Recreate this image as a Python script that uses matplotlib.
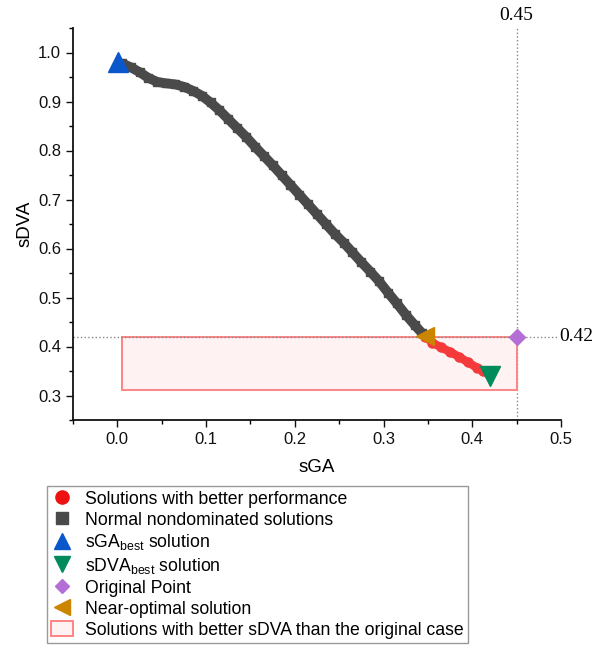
import matplotlib
matplotlib.use("Agg")
import matplotlib.pyplot as plt
from matplotlib.lines import Line2D
from matplotlib.patches import Rectangle
from matplotlib.ticker import MultipleLocator

plt.rcParams['font.family'] = ['Liberation Sans', 'DejaVu Sans']
plt.rcParams['mathtext.fontset'] = 'custom'
plt.rcParams['mathtext.rm'] = 'Liberation Sans'

# ---- data ----
normal_sga = [0.005, 0.015, 0.025, 0.035, 0.045, 0.055, 0.065, 0.075, 0.085, 0.095,
              0.105, 0.115, 0.125, 0.135, 0.145, 0.155, 0.165, 0.175, 0.185, 0.195,
              0.205, 0.215, 0.225, 0.235, 0.245, 0.255, 0.265, 0.275, 0.285, 0.295,
              0.305, 0.315, 0.325, 0.335, 0.343]
normal_sdva = [0.978, 0.970, 0.960, 0.948, 0.940, 0.937, 0.935, 0.930, 0.922, 0.912,
               0.898, 0.882, 0.864, 0.846, 0.828, 0.808, 0.789, 0.770, 0.750, 0.730,
               0.710, 0.690, 0.670, 0.650, 0.630, 0.612, 0.592, 0.572, 0.553, 0.533,
               0.510, 0.488, 0.465, 0.444, 0.428]
better_sga = [0.347, 0.355, 0.365, 0.375, 0.385, 0.395, 0.405, 0.412, 0.418]
better_sdva = [0.420, 0.408, 0.398, 0.389, 0.379, 0.368, 0.357, 0.350, 0.345]
sga_best = (0.001, 0.980)
sdva_best = (0.420, 0.340)
original_point = (0.45, 0.42)
near_optimal = (0.347, 0.422)
rect_x0, rect_y0 = 0.005, 0.312
hline_end = 0.495

legend_labels = ["Solutions with better performance",
                 "Normal nondominated solutions",
                 r"sGA$_{\mathrm{best}}$ solution",
                 r"sDVA$_{\mathrm{best}}$ solution",
                 "Original Point",
                 "Near-optimal solution",
                 "Solutions with better sDVA than the original case"]

c_gray = '#4a4a4a'
c_red = '#f43a3a'
c_blue = '#0a57cc'
c_green = '#008c5a'
c_purple = '#b46fd6'
c_gold = '#cc8500'

fig = plt.figure(figsize=(5.97, 6.51), dpi=100)
ax = fig.add_axes([73/597, 1-420/651, (561-73)/597, (420-28)/651])

# rectangle region
ax.add_patch(Rectangle((rect_x0, rect_y0), original_point[0]-rect_x0, original_point[1]-rect_y0,
                       facecolor='#fff2f2', edgecolor='#ff8484', linewidth=1.4, zorder=1))

# reference lines
ax.axvline(original_point[0], color='#888888', linestyle=':', linewidth=1.0, zorder=0.5)
ax.hlines(original_point[1], -0.05, hline_end, color='#888888', linestyle=':', linewidth=1.0, zorder=2)

# series
ax.plot(normal_sga, normal_sdva, color=c_gray, linewidth=7, solid_capstyle='butt', zorder=3)
ax.plot(normal_sga, normal_sdva, linestyle='none', marker='s', ms=5.5, color=c_gray, zorder=3)
ax.plot(better_sga, better_sdva, color=c_red, linewidth=6, solid_capstyle='round', zorder=3)
ax.plot(better_sga, better_sdva, linestyle='none', marker='o', ms=6.5, color=c_red, zorder=3)

ax.plot(*sga_best, marker='^', ms=14, color=c_blue, linestyle='none', zorder=5)
ax.plot(*sdva_best, marker='v', ms=14, color=c_green, linestyle='none', zorder=5)
ax.plot(*original_point, marker='D', ms=8, color=c_purple, linestyle='none', zorder=5)
ax.plot(*near_optimal, marker='<', ms=13, color=c_gold, linestyle='none', zorder=5)

# reference labels
ax.annotate(f"{original_point[0]:.2f}", xy=(original_point[0], 1.05), xytext=(0, 3),
            textcoords='offset points', ha='center', va='bottom', fontsize=14,
            family='Liberation Serif', annotation_clip=False)
ax.annotate(f"{original_point[1]:.2f}", xy=(hline_end, original_point[1]), xytext=(2, 0),
            textcoords='offset points', ha='left', va='center', fontsize=14,
            family='Liberation Serif', annotation_clip=False)

ax.set_xlim(-0.05, 0.5)
ax.set_ylim(0.25, 1.05)
ax.xaxis.set_major_locator(MultipleLocator(0.1))
ax.xaxis.set_minor_locator(MultipleLocator(0.05))
ax.yaxis.set_major_locator(MultipleLocator(0.1))
ax.yaxis.set_minor_locator(MultipleLocator(0.05))
ax.set_xticks([0.0, 0.1, 0.2, 0.3, 0.4, 0.5])
ax.set_xticklabels(["0.0", "0.1", "0.2", "0.3", "0.4", "0.5"])
ax.set_yticks([0.3, 0.4, 0.5, 0.6, 0.7, 0.8, 0.9, 1.0])
ax.set_yticklabels(["0.3", "0.4", "0.5", "0.6", "0.7", "0.8", "0.9", "1.0"])
ax.tick_params(which='major', direction='out', length=5, width=1.0, labelsize=12, colors='#111111')
ax.tick_params(which='minor', direction='out', length=2.8, width=1.0)
for s in ['top', 'right']:
    ax.spines[s].set_visible(False)
for s in ['left', 'bottom']:
    ax.spines[s].set_linewidth(1.3)
    ax.spines[s].set_color('#111111')

ax.set_xlabel("sGA", fontsize=13.5, labelpad=9)
ax.set_ylabel("sDVA", fontsize=13.5, labelpad=3)

handles = [
    Line2D([], [], linestyle='none', marker='o', ms=9.5, color='#ee1111'),
    Line2D([], [], linestyle='none', marker='s', ms=9, color=c_gray),
    Line2D([], [], linestyle='none', marker='^', ms=11, color=c_blue),
    Line2D([], [], linestyle='none', marker='v', ms=11, color=c_green),
    Line2D([], [], linestyle='none', marker='D', ms=7.5, color=c_purple),
    Line2D([], [], linestyle='none', marker='<', ms=11, color=c_gold),
    Rectangle((0, 0), 1, 1, facecolor='#fff2f2', edgecolor='#ff8484', linewidth=1.4),
]
leg = fig.legend(handles, legend_labels, loc='upper left',
                 bbox_to_anchor=(47/597, 1-486/651), borderaxespad=0,
                 fontsize=12.7, frameon=True, fancybox=False, framealpha=1,
                 edgecolor='#999999', borderpad=0.25, handlelength=1.25,
                 handleheight=0.9, handletextpad=0.65, labelspacing=0.2)
leg.get_frame().set_linewidth(1.0)

fig.savefig("out.png", dpi=100)
